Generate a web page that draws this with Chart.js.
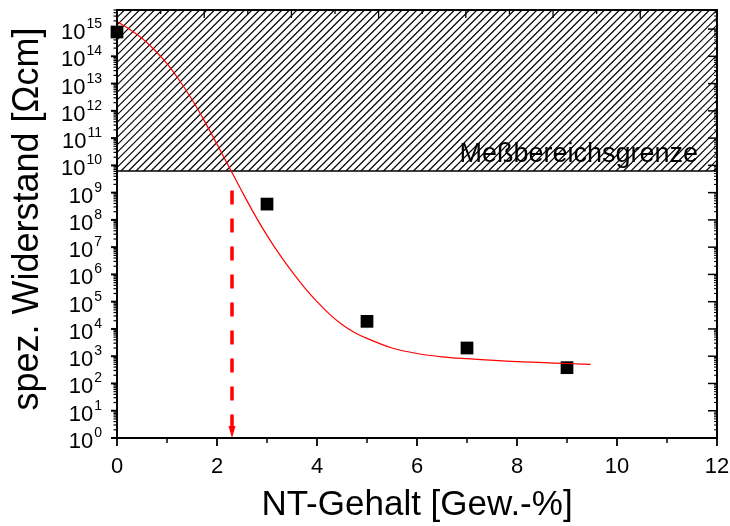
<!DOCTYPE html>
<html>
<head>
<meta charset="utf-8">
<script src="https://cdn.jsdelivr.net/npm/chart.js@4.4.0/dist/chart.umd.min.js"></script>
<style>
  html, body { margin: 0; padding: 0; background: #fff; }
  #wrap { width: 730px; height: 526px; }
</style>
</head>
<body>
<div id="wrap"><canvas id="chart" width="730" height="526"></canvas></div>
<script>
// measured resistivity over nanotube content
const ntContent = [0, 3, 5, 7, 9];
const resistivity = [7.8e14, 3.8e8, 1.9e4, 2.0e3, 3.8e2];

// fitted curve through the measurements
const fitX = [0, 0.25, 0.5, 0.75, 1.0, 1.25, 1.5, 1.75, 2.0, 2.25, 2.5, 2.75, 3.0,
              3.25, 3.5, 3.75, 4.0, 4.25, 4.5, 4.75, 5.0, 5.5, 6.0, 6.5, 7.0, 8.0, 9.0, 9.47];
const fitY = [1.9e15, 9.9e14, 4.6e14, 1.7e14, 5.4e13, 1.3e13, 2.6e12, 4.2e11, 6.0e10,
              8.1e9, 1.1e9, 1.6e8, 2.7e7, 5.4e6, 1.26e6, 3.3e5, 1.0e5, 3.5e4, 1.45e4,
              7.4e3, 4.5e3, 2.0e3, 1.26e3, 9.5e2, 8.1e2, 6.3e2, 5.4e2, 5.0e2];

// percolation threshold marker
const thresholdX = 2.3;
const thresholdTop = 1.2e9;

// upper limit of the measuring range
const rangeLimit = 6.2e9;
const rangeLabel = 'Meßbereichsgrenze';

// axis ticks
const xTicks = [0, 2, 4, 6, 8, 10, 12];
const xMinorTicks = [1, 3, 5, 7, 9, 11];
const yExponents = [0, 1, 2, 3, 4, 5, 6, 7, 8, 9, 10, 11, 12, 13, 14, 15];

const xTitle = 'NT-Gehalt [Gew.-%]';
const yTitle = 'spez. Widerstand [Ωcm]';

const FONT = '"Liberation Sans", Arial, sans-serif';

const frame = {
  id: 'frame',
  beforeDatasetsDraw(chart) {
    const { ctx, chartArea: a, scales } = chart;
    const yLim = scales.y.getPixelForValue(rangeLimit);
    const h = yLim - a.top;

    // hatched area above the measuring limit
    ctx.save();
    ctx.beginPath();
    ctx.rect(a.left, a.top, a.right - a.left, h);
    ctx.clip();
    ctx.strokeStyle = '#000';
    ctx.lineWidth = 1.2;
    ctx.beginPath();
    for (let k = a.left - h; k < a.right; k += 7.5) {
      ctx.moveTo(k, yLim);
      ctx.lineTo(k + h, a.top);
    }
    ctx.stroke();
    ctx.restore();

    ctx.save();
    ctx.strokeStyle = '#000';
    ctx.lineWidth = 1.6;
    ctx.beginPath();
    ctx.moveTo(a.left, yLim);
    ctx.lineTo(a.right, yLim);
    ctx.stroke();

    ctx.fillStyle = '#000';
    ctx.font = '27px ' + FONT;
    ctx.textAlign = 'right';
    ctx.textBaseline = 'alphabetic';
    ctx.fillText(rangeLabel, a.right - 19, yLim - 9);
    ctx.restore();
  },
  afterDatasetsDraw(chart) {
    const { ctx, chartArea: a, scales } = chart;
    const x = scales.x, y = scales.y, x2 = scales.x2;
    ctx.save();
    ctx.strokeStyle = '#000';
    ctx.fillStyle = '#000';
    ctx.direction = 'ltr';

    const line = (x1, y1, xx, yy, w) => {
      ctx.lineWidth = w;
      ctx.beginPath();
      ctx.moveTo(x1, y1);
      ctx.lineTo(xx, yy);
      ctx.stroke();
    };

    // arrow head of the threshold marker
    const ax = x.getPixelForValue(thresholdX);
    const ay = y.getPixelForValue(1);
    ctx.fillStyle = '#ff0000';
    ctx.beginPath();
    ctx.moveTo(ax - 3.5, ay - 12);
    ctx.lineTo(ax + 3.5, ay - 12);
    ctx.lineTo(ax, ay);
    ctx.closePath();
    ctx.fill();
    ctx.fillStyle = '#000';

    // bottom axis: ticks outward
    xTicks.forEach(v => {
      const px = x.getPixelForValue(v);
      line(px, a.bottom, px, a.bottom + 8, 1.8);
    });
    xMinorTicks.forEach(v => {
      const px = x.getPixelForValue(v);
      line(px, a.bottom, px, a.bottom + 5, 1.5);
    });

    // top axis: ticks inward
    x2.ticks.forEach(t => {
      const px = x2.getPixelForValue(t.value);
      if (px <= a.left + 1 || px >= a.right - 1) return;
      const major = Math.abs(t.value - Math.round(t.value)) < 1e-6;
      line(px, a.top, px, a.top + (major ? 8 : 4), 1.3);
    });

    // left (outward) and right (inward) log ticks
    yExponents.forEach(e => {
      const base = Math.pow(10, e);
      const py = y.getPixelForValue(base);
      line(a.left - 6, py, a.left, py, 2);
      line(a.right - 9, py, a.right, py, 1.5);
      for (let m = 2; m <= 9; m++) {
        const v = m * base;
        if (v > y.max) break;
        const pm = y.getPixelForValue(v);
        line(a.left - 3.5, pm, a.left, pm, 1.2);
        line(a.right - 3, pm, a.right, pm, 1);
      }
    });

    // frame
    ctx.lineWidth = 2;
    ctx.strokeRect(a.left, a.top, a.right - a.left, a.bottom - a.top);

    // x tick labels
    ctx.font = '22px ' + FONT;
    ctx.textAlign = 'center';
    ctx.textBaseline = 'alphabetic';
    xTicks.forEach(v => {
      ctx.fillText(String(v), x.getPixelForValue(v), a.bottom + 35);
    });

    // y tick labels with superscript exponents
    const labelRight = a.left - 15;
    yExponents.forEach(e => {
      const py = y.getPixelForValue(Math.pow(10, e));
      const sup = String(e);
      ctx.textAlign = 'right';
      ctx.font = '14px ' + FONT;
      const supW = ctx.measureText(sup).width;
      ctx.fillText(sup, labelRight, py - 1);
      ctx.font = '22px ' + FONT;
      ctx.fillText('10', labelRight - supW - 1, py + 10);
    });

    // axis titles
    ctx.font = '35px ' + FONT;
    ctx.textAlign = 'center';
    ctx.fillText(xTitle, (a.left + a.right) / 2, a.bottom + 77);
    ctx.save();
    ctx.font = '36px ' + FONT;
    ctx.translate(38, (a.top + a.bottom) / 2 - 5);
    ctx.rotate(-Math.PI / 2);
    ctx.fillText(yTitle, 0, 0);
    ctx.restore();

    ctx.restore();
  }
};

new Chart(document.getElementById('chart'), {
  type: 'scatter',
  data: {
    datasets: [
      {
        type: 'line',
        data: fitX.map((v, i) => ({ x: v, y: fitY[i] })),
        borderColor: '#ff0000',
        borderWidth: 1.2,
        pointRadius: 0,
        cubicInterpolationMode: 'monotone',
        fill: false
      },
      {
        type: 'line',
        data: [{ x: thresholdX, y: thresholdTop }, { x: thresholdX, y: 1 }],
        borderColor: '#ff0000',
        borderWidth: 3.5,
        borderDash: [14, 14],
        pointRadius: 0,
        fill: false
      },
      {
        data: ntContent.map((v, i) => ({ x: v, y: resistivity[i] })),
        pointStyle: 'rect',
        pointRadius: 9,
        pointHoverRadius: 9,
        backgroundColor: '#000',
        borderWidth: 0,
        clip: false
      }
    ]
  },
  options: {
    responsive: false,
    animation: false,
    devicePixelRatio: 1,
    layout: { padding: { left: 117, right: 13, top: 10, bottom: 88 } },
    plugins: { legend: { display: false }, tooltip: { enabled: false } },
    scales: {
      x: { type: 'linear', position: 'bottom', min: 0, max: 12, display: false },
      x2: { type: 'linear', position: 'top', min: 0, max: 6.88, display: false,
            ticks: { stepSize: 0.5 } },
      y: { type: 'logarithmic', min: 1, max: 5e15, display: false }
    }
  },
  plugins: [frame]
});
</script>
</body>
</html>
